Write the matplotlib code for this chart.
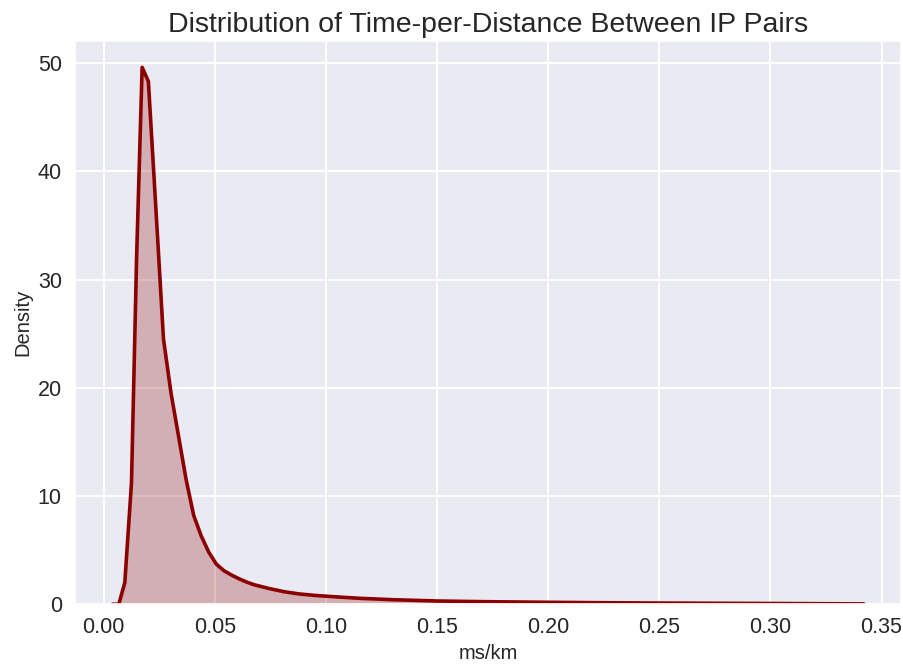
import matplotlib
matplotlib.use("Agg")
import matplotlib.pyplot as plt
import seaborn as sns


# =========================================================
# Data (density curve)
# =========================================================

ms_per_km = [
    0.0040, 0.0068, 0.0095, 0.0125, 0.0148, 0.0173, 0.0201,
    0.0235, 0.0269, 0.0303, 0.0337, 0.0371, 0.0405, 0.0439,
    0.0473, 0.0507, 0.0541, 0.0575, 0.0609, 0.0643, 0.0677,
    0.0745, 0.0813, 0.0880, 0.0948, 0.1016, 0.1150, 0.1300,
    0.1500, 0.1700, 0.2000, 0.2250, 0.2500, 0.2750, 0.3000,
    0.3200, 0.3420
]

density = [
    0.0, 0.0, 2.0, 11.2, 32.0, 49.6, 48.3,
    36.5, 24.5, 19.5, 15.5, 11.5, 8.2, 6.3,
    4.8, 3.7, 3.1, 2.7, 2.35, 2.05, 1.8,
    1.45, 1.15, 0.95, 0.82, 0.72, 0.55, 0.42,
    0.30, 0.24, 0.18, 0.14, 0.11, 0.09, 0.07,
    0.05, 0.03
]

TITLE = "Distribution of Time-per-Distance Between IP Pairs"
COLOR = "darkred"


# =========================================================
# Plot
# =========================================================

sns.set_theme(style="darkgrid")
plt.rcParams["font.family"] = ["Liberation Sans", "DejaVu Sans"]
plt.rcParams["grid.linewidth"] = 1.4

fig, ax = plt.subplots(figsize=(9.04, 6.64), dpi=100)

ax.fill_between(ms_per_km, density, color=COLOR, alpha=0.25, linewidth=0)
ax.plot(ms_per_km, density, color=COLOR, linewidth=2.6)

ax.set_ylim(bottom=0)
ax.set_title(TITLE, fontsize=20.5)
ax.set_xlabel("ms/km", fontsize=14.5)
ax.set_ylabel("Density", fontsize=14.5)
ax.tick_params(axis="both", labelsize=15.5)

fig.subplots_adjust(left=0.083, right=0.997, top=0.939, bottom=0.09)

fig.savefig("out.png", dpi=100)
plt.close(fig)
